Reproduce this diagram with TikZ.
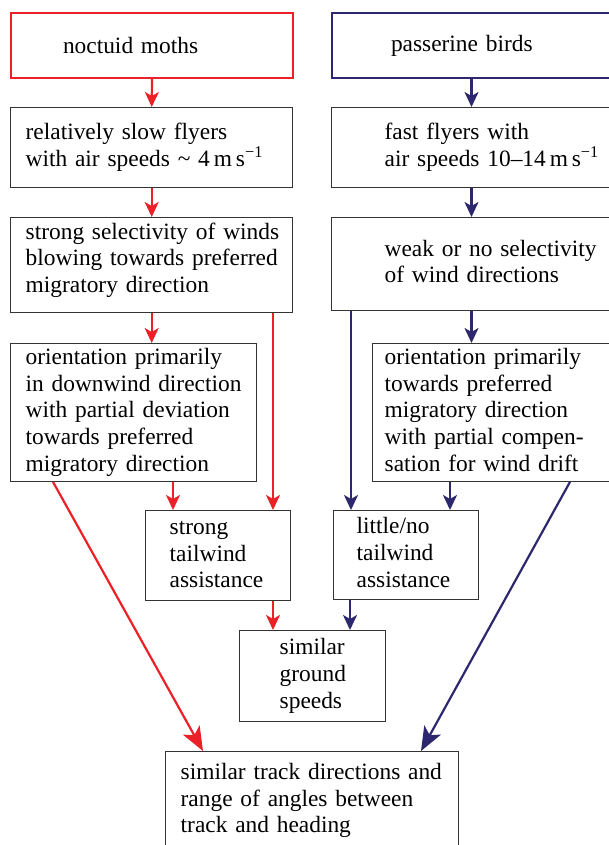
\documentclass[tikz,border=0pt]{standalone}
\usepackage{fontspec}
\setmainfont{Liberation Serif}
\usetikzlibrary{arrows.meta}
\definecolor{mothred}{RGB}{236,32,39}
\definecolor{birdblue}{RGB}{45,40,110}
\newcommand{\stack}[1]{\begin{tabular}{@{}l@{}}#1\end{tabular}}
\tikzset{
  box/.style={draw=black!80, line width=1.4pt, anchor=north west, inner ysep=2pt, align=left, font=\fontsize{23.4}{26.7}\selectfont},
  redarrow/.style={draw=mothred, line width=2.2pt, -{Stealth[length=15pt,width=14pt,inset=4pt]}},
  bluearrow/.style={draw=birdblue, line width=2.2pt, -{Stealth[length=15pt,width=14pt,inset=4pt]}},
  bighead/.style={-{Stealth[length=24pt,width=19pt,inset=6pt]}}
}
\begin{document}
\begin{tikzpicture}[x=1pt, y=-1pt]
\useasboundingbox (0,0) rectangle (608,845);
\node[box, draw=mothred, line width=2pt, minimum width=282pt, minimum height=65pt, inner xsep=52pt, text width=178pt] (moths) at (10,12) {noctuid moths};
\node[box, draw=birdblue, line width=2pt, minimum width=290pt, minimum height=65pt, inner xsep=59pt, text width=172pt] (birds) at (331,12) {passerine birds};
\node[box, minimum width=282pt, minimum height=80pt, inner xsep=15pt, text width=252pt] (slow) at (10,107) {\stack{relatively slow flyers\\with air speeds \textasciitilde{} 4\,m\,s\textsuperscript{−1}}};
\node[box, minimum width=326pt, minimum height=80pt, inner xsep=53pt, text width=220pt] (fast) at (331,107) {\stack{fast flyers with\\air speeds 10–14\,m\,s\textsuperscript{−1}}};
\node[box, minimum width=282pt, minimum height=95pt, inner xsep=15pt, text width=252pt] (strongsel) at (10,217) {\stack{strong selectivity of winds\\blowing towards preferred\\migratory direction}\rule[-43pt]{0pt}{0pt}};
\node[box, minimum width=326pt, minimum height=93pt, inner xsep=53pt, text width=220pt] (weaksel) at (331,217) {\stack{weak or no selectivity\\of wind directions}};
\node[box, minimum width=246pt, minimum height=136pt, inner xsep=15pt, text width=216pt] (orientL) at (10,343) {\stack{orientation primarily\\in downwind direction\\with partial deviation\\towards preferred\\migratory direction}};
\node[box, minimum width=264pt, minimum height=136pt, inner xsep=12pt, text width=240pt] (orientR) at (372,343) {\stack{orientation primarily\\towards preferred\\migratory direction\\with partial compen-\\sation for wind drift}};
\node[box, minimum width=145pt, minimum height=90pt, inner xsep=24pt, text width=97pt] (strongtail) at (145,510) {\stack{strong\\tailwind\\assistance}};
\node[box, minimum width=145pt, minimum height=89pt, inner xsep=23pt, text width=99pt] (littletail) at (333,510) {\stack{little/no\\tailwind\\assistance}};
\node[box, minimum width=146pt, minimum height=91pt, inner xsep=40pt, text width=66pt] (ground) at (239,630) {\stack{similar\\ground\\speeds}};
\node[box, minimum width=293pt, minimum height=98pt, inner xsep=15pt, text width=263pt] (track) at (165,751) {\stack{similar track directions and\\range of angles between\\track and heading}};
\draw[redarrow] (moths.south) -- (slow.north);
\draw[redarrow] (slow.south) -- (strongsel.north);
\draw[redarrow] (strongsel.south) -- (strongsel.south |- orientL.north);
\draw[redarrow] ([xshift=263pt]strongsel.south west) -- ([xshift=128pt]strongtail.north west);
\draw[redarrow] ([xshift=163pt]orientL.south west) -- ([xshift=28pt]strongtail.north west);
\draw[redarrow, bighead] ([xshift=43pt]orientL.south west) -- ([xshift=38pt]track.north west);
\draw[redarrow] ([xshift=128pt]strongtail.south west) -- ([xshift=34pt]ground.north west);
\draw[bluearrow] ([xshift=140.5pt]birds.south west) -- ([xshift=140.5pt]fast.north west);
\draw[bluearrow] ([xshift=140.5pt]fast.south west) -- ([xshift=140.5pt]weaksel.north west);
\draw[bluearrow] ([xshift=140.5pt]weaksel.south west) -- ([xshift=99.5pt]orientR.north west);
\draw[bluearrow] ([xshift=20pt]weaksel.south west) -- ([xshift=18pt]littletail.north west);
\draw[bluearrow] ([xshift=78pt]orientR.south west) -- ([xshift=117pt]littletail.north west);
\draw[bluearrow, bighead] ([xshift=198pt]orientR.south west) -- ([xshift=256pt]track.north west);
\draw[bluearrow] ([xshift=17pt]littletail.south west) -- ([xshift=111pt]ground.north west);
\end{tikzpicture}
\end{document}
